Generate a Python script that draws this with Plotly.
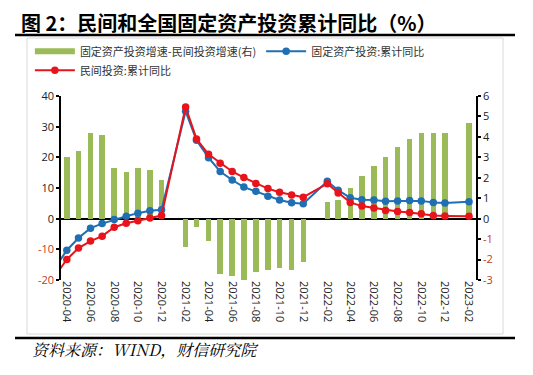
import plotly.graph_objects as go

# ---- data ----
months = ["2020-03-01", "2020-04-01", "2020-05-01", "2020-06-01", "2020-07-01", "2020-08-01",
          "2020-09-01", "2020-10-01", "2020-11-01", "2020-12-01",
          "2021-02-01", "2021-03-01", "2021-04-01", "2021-05-01", "2021-06-01", "2021-07-01",
          "2021-08-01", "2021-09-01", "2021-10-01", "2021-11-01", "2021-12-01",
          "2022-02-01", "2022-03-01", "2022-04-01", "2022-05-01", "2022-06-01", "2022-07-01",
          "2022-08-01", "2022-09-01", "2022-10-01", "2022-11-01", "2022-12-01",
          "2023-02-01"]
fai_yoy = [-16.1, -10.3, -6.3, -3.1, -1.6, -0.3, 0.8, 1.8, 2.6, 2.9,
           35.0, 25.6, 19.9, 15.4, 12.6, 10.3, 8.9, 7.3, 6.1, 5.2, 4.9,
           12.2, 9.3, 6.8, 6.2, 6.1, 5.7, 5.8, 5.9, 5.8, 5.3, 5.1,
           5.5]
private_yoy = [-18.8, -13.3, -9.6, -7.3, -5.7, -2.8, -1.5, -0.7, 0.2, 1.0,
               36.4, 26.0, 21.0, 18.1, 15.4, 13.4, 11.5, 9.8, 8.6, 7.7, 7.0,
               11.4, 8.4, 5.3, 4.1, 3.5, 2.7, 2.3, 2.0, 1.6, 1.0, 0.9,
               0.8]
gap = [2.7, 3.0, 3.3, 4.2, 4.1, 2.5, 2.3, 2.5, 2.4, 1.9,
       -1.4, -0.4, -1.1, -2.7, -2.8, -3.1, -2.6, -2.5, -2.4, -2.5, -2.1,
       0.8, 0.9, 1.5, 2.1, 2.6, 3.0, 3.5, 3.9, 4.2, 4.2, 4.2,
       4.7]

left_ticks = [40, 30, 20, 10, 0, -10, -20]
right_ticks = [6, 5, 4, 3, 2, 1, 0, -1, -2, -3]

names = ["固定资产投资增速-民间投资增速(右)", "固定资产投资:累计同比", "民间投资:累计同比"]
title_text = "图 2：民间和全国固定资产投资累计同比（%）"
source_text = "资料来源：WIND，财信研究院"

GREEN = "#9BBB59"
BLUE = "#1F6FB4"
RED = "#E8141B"
NEG = "#C0392B"

X_RANGE = ["2020-03-17", "2023-02-19"]
LEFT_RANGE = [-20, 40]


def tick_text(vals):
    out = []
    for v in vals:
        if v < 0:
            out.append('<span style="color:%s">%d</span>' % (NEG, v))
        else:
            out.append(str(v))
    return out


fig = go.Figure()
fig.add_trace(go.Bar(x=months, y=gap, name=names[0], marker_color=GREEN,
                     marker_line_width=0, width=14 * 86400000, yaxis="y",
                     showlegend=False))
# legend entry for the bars (wide band symbol, as in the original)
fig.add_trace(go.Scatter(x=[None], y=[None], name=names[0], mode="lines",
                         line=dict(color=GREEN, width=6), yaxis="y"))
fig.add_trace(go.Scatter(x=months, y=fai_yoy, name=names[1], mode="lines+markers",
                         line=dict(color=BLUE, width=2), marker=dict(color=BLUE, size=7.5),
                         yaxis="y2"))
fig.add_trace(go.Scatter(x=months, y=private_yoy, name=names[2], mode="lines+markers",
                         line=dict(color=RED, width=2), marker=dict(color=RED, size=7.5),
                         yaxis="y2"))

base_font = "Open Sans, DejaVu Sans, sans-serif"
cjk = "Noto Sans CJK SC, sans-serif"

zero_pos = (0 - LEFT_RANGE[0]) / (LEFT_RANGE[1] - LEFT_RANGE[0])

fig.update_layout(
    width=533, height=375,
    margin=dict(l=53, r=65, t=88, b=103),
    paper_bgcolor="white", plot_bgcolor="white",
    bargap=0,
    font=dict(family=base_font, size=11, color="#222"),
    showlegend=True,
    legend=dict(orientation="h", x=-0.075, y=1.322, xanchor="left", yanchor="top",
                font=dict(family=cjk, size=11, color="#333"),
                bgcolor="rgba(0,0,0,0)", itemwidth=40, tracegroupgap=0),
    xaxis=dict(type="date", range=X_RANGE, dtick="M2",
               tick0="2020-04-01", tickformat="%Y-%m", tickangle=90,
               showgrid=False, showline=False, zeroline=False, ticks="",
               tickfont=dict(family=base_font, size=11, color="#222")),
    # tick marks sitting on the zero line (category-axis crossing)
    xaxis2=dict(type="date", range=X_RANGE, overlaying="x", anchor="free", position=zero_pos,
                side="bottom", dtick="M2", tick0="2020-05-16", ticks="outside", ticklen=4,
                tickwidth=1.5, tickcolor="black", showticklabels=False, showgrid=False,
                showline=False, zeroline=False),
    yaxis=dict(side="right", range=[-3, 6], tickvals=right_ticks, ticktext=tick_text(right_ticks),
               showgrid=False, zeroline=False, showline=True, linecolor="black", linewidth=1.5,
               ticks="outside", ticklen=3, tickcolor="black", tickwidth=1.5,
               tickfont=dict(family=base_font, size=11, color="#222")),
    yaxis2=dict(side="left", overlaying="y", range=LEFT_RANGE, tickvals=left_ticks,
                ticktext=tick_text(left_ticks),
                showgrid=False, zeroline=True, zerolinecolor="black", zerolinewidth=1.5,
                showline=True, linecolor="black", linewidth=1.5,
                ticks="outside", ticklen=3, tickcolor="black", tickwidth=1.5,
                tickfont=dict(family=base_font, size=11, color="#222")),
)

# chart frame and rules
fig.add_shape(type="rect", xref="paper", yref="paper", x0=-0.0819, x1=1.0651, y0=-0.2935, y1=1.3152,
              line=dict(color="#D9D9D9", width=1), layer="below")
fig.add_shape(type="line", xref="paper", yref="paper", x0=-0.1108, x1=1.094, y0=1.3315, y1=1.3315,
              line=dict(color="black", width=2.5))
fig.add_shape(type="line", xref="paper", yref="paper", x0=-0.1108, x1=1.094, y0=-0.3152, y1=-0.3152,
              line=dict(color="black", width=2.5))

fig.add_annotation(text="<b>" + title_text + "</b>", xref="paper", yref="paper",
                   x=0.4048, y=1.3995, xanchor="center", yanchor="middle", showarrow=False,
                   font=dict(family=cjk, size=20, color="black"))
fig.add_annotation(text="<i>" + source_text + "</i>", xref="paper", yref="paper",
                   x=0.2036, y=-0.3804, xanchor="center", yanchor="middle", showarrow=False,
                   font=dict(family="Noto Serif CJK SC, " + cjk, size=16, color="black"))

fig.write_html("out.html")
